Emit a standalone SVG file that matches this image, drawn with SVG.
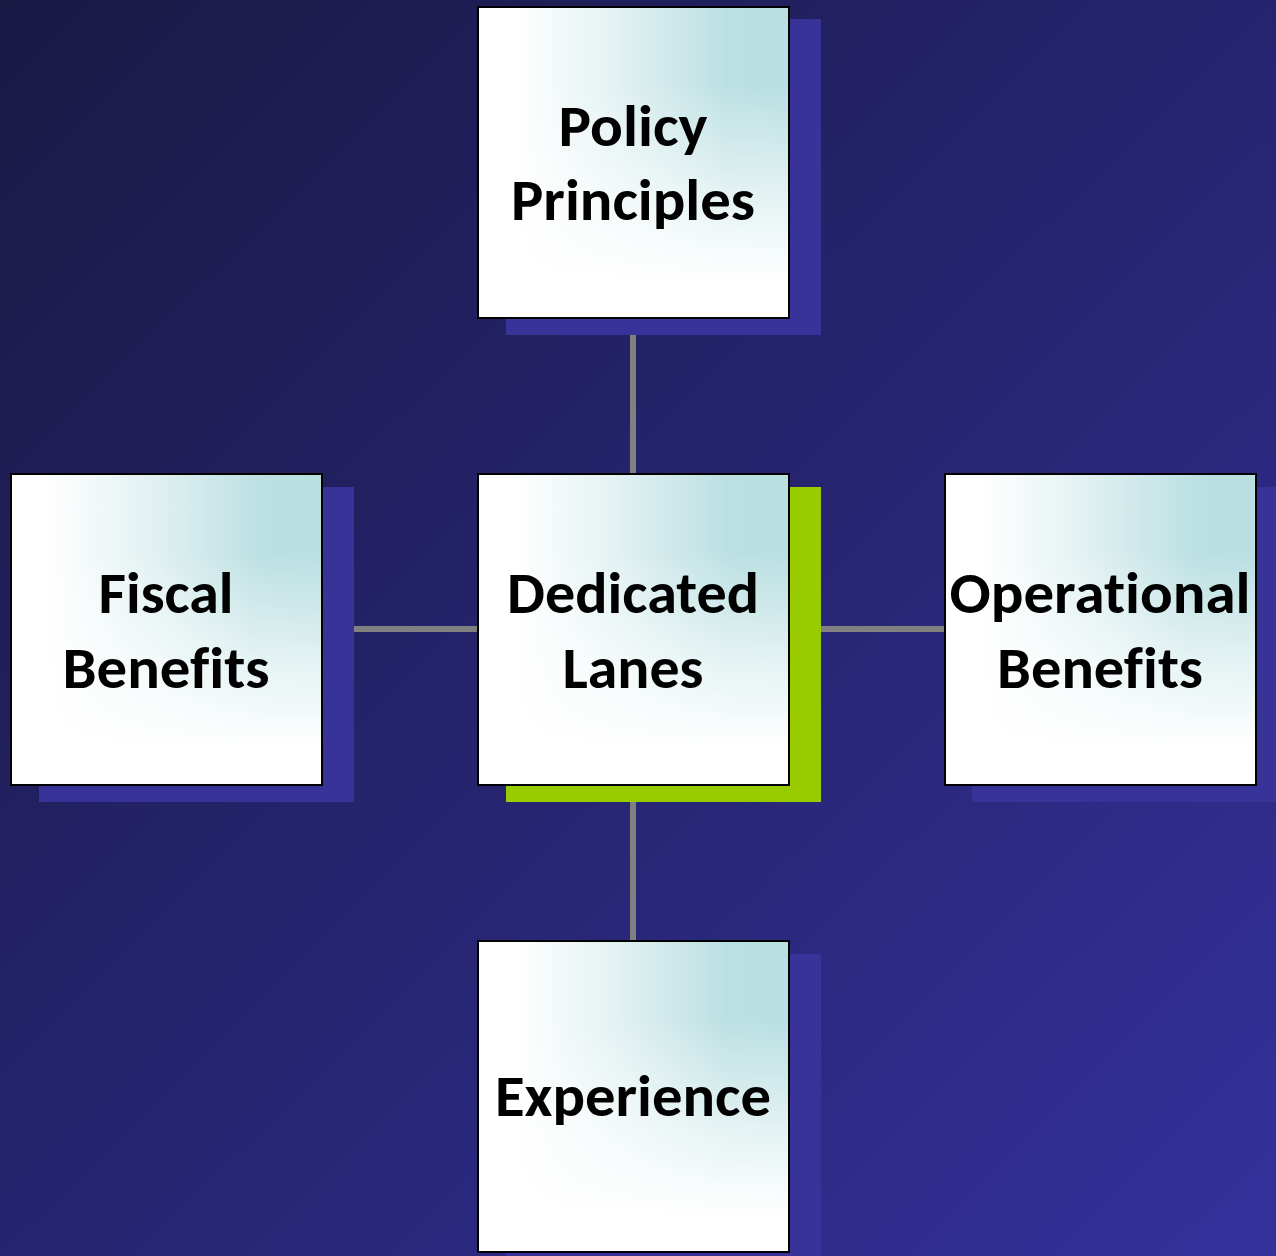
<svg xmlns="http://www.w3.org/2000/svg" width="1276" height="1256" viewBox="0 0 1276 1256">
<defs>
<linearGradient id="bg" x1="0" y1="0" x2="1" y2="1">
<stop offset="0" stop-color="#1a1944"/>
<stop offset="0.5" stop-color="#26246f"/>
<stop offset="1" stop-color="#34319c"/>
</linearGradient>
<linearGradient id="hfill" x1="0" y1="0" x2="1" y2="0">
<stop offset="0" stop-color="#ffffff"/>
<stop offset="0.12" stop-color="#ffffff"/>
<stop offset="0.45" stop-color="#e2f1f2"/>
<stop offset="0.8" stop-color="#bce0e2"/>
<stop offset="1" stop-color="#b9dfe1"/>
</linearGradient>
<linearGradient id="vfill" x1="0" y1="0" x2="0" y2="1">
<stop offset="0" stop-color="#ffffff" stop-opacity="0"/>
<stop offset="0.25" stop-color="#ffffff" stop-opacity="0"/>
<stop offset="0.6" stop-color="#ffffff" stop-opacity="0.6"/>
<stop offset="0.88" stop-color="#ffffff" stop-opacity="1"/>
<stop offset="1" stop-color="#ffffff" stop-opacity="1"/>
</linearGradient>
<style>
.shadow{fill:#373398}
.shadow-accent{fill:#99cc00}
.fh{fill:url(#hfill)}
.fv{fill:url(#vfill)}
.box{fill:none;stroke:#000;stroke-width:2}
.label{font-family:Carlito,Lato,"Open Sans",sans-serif;font-weight:bold;font-size:58px;fill:#000;text-anchor:middle;font-variant-ligatures:none}
.conn{stroke:#808080;stroke-width:6;fill:none}
</style>
</defs>
<rect x="0" y="0" width="1276" height="1256" fill="url(#bg)"/>
<g id="connectors">
<line class="conn" x1="633" y1="334" x2="633" y2="475"/>
<line class="conn" x1="633" y1="801" x2="633" y2="942"/>
<line class="conn" x1="353" y1="629" x2="478" y2="629"/>
<line class="conn" x1="820" y1="629" x2="945" y2="629"/>
</g>
<g id="policy-principles">
<rect class="shadow" x="506" y="19" width="315" height="316"/>
<rect class="fh" x="478" y="7" width="311" height="311"/>
<rect class="fv" x="478" y="7" width="311" height="311"/>
<rect class="box" x="478" y="7" width="311" height="311"/>
<text class="label" x="633" y="146" textLength="149" lengthAdjust="spacingAndGlyphs">Policy</text>
<text class="label" x="633" y="220" textLength="244" lengthAdjust="spacingAndGlyphs">Principles</text>
</g>
<g id="fiscal-benefits">
<rect class="shadow" x="39" y="487" width="315" height="315"/>
<rect class="fh" x="11" y="474" width="311" height="311"/>
<rect class="fv" x="11" y="474" width="311" height="311"/>
<rect class="box" x="11" y="474" width="311" height="311"/>
<text class="label" x="166" y="613" textLength="135" lengthAdjust="spacingAndGlyphs">Fiscal</text>
<text class="label" x="166" y="688" textLength="207" lengthAdjust="spacingAndGlyphs">Benefits</text>
</g>
<g id="dedicated-lanes">
<rect class="shadow-accent" x="506" y="487" width="315" height="315"/>
<rect class="fh" x="478" y="474" width="311" height="311"/>
<rect class="fv" x="478" y="474" width="311" height="311"/>
<rect class="box" x="478" y="474" width="311" height="311"/>
<text class="label" x="633" y="613" textLength="252" lengthAdjust="spacingAndGlyphs">Dedicated</text>
<text class="label" x="633" y="688" textLength="141" lengthAdjust="spacingAndGlyphs">Lanes</text>
</g>
<g id="operational-benefits">
<rect class="shadow" x="972" y="487" width="315" height="315"/>
<rect class="fh" x="945" y="474" width="311" height="311"/>
<rect class="fv" x="945" y="474" width="311" height="311"/>
<rect class="box" x="945" y="474" width="311" height="311"/>
<text class="label" x="1100" y="613" textLength="301" lengthAdjust="spacingAndGlyphs">Operational</text>
<text class="label" x="1100" y="688" textLength="206" lengthAdjust="spacingAndGlyphs">Benefits</text>
</g>
<g id="experience">
<rect class="shadow" x="506" y="954" width="315" height="315"/>
<rect class="fh" x="478" y="941" width="311" height="311"/>
<rect class="fv" x="478" y="941" width="311" height="311"/>
<rect class="box" x="478" y="941" width="311" height="311"/>
<text class="label" x="633" y="1116" textLength="276" lengthAdjust="spacingAndGlyphs">Experience</text>
</g>
</svg>
